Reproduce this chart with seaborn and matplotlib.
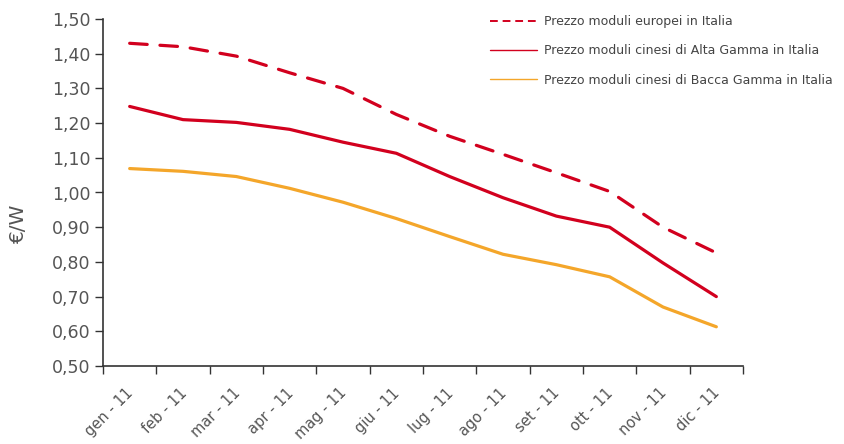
import numpy as np
import pandas as pd
import matplotlib
matplotlib.use("Agg")
import matplotlib.pyplot as plt
from matplotlib.lines import Line2D
from matplotlib.transforms import offset_copy
import seaborn as sns

mesi = ["gen - 11", "feb - 11", "mar - 11", "apr - 11", "mag - 11", "giu - 11",
        "lug - 11", "ago - 11", "set - 11", "ott - 11", "nov - 11", "dic - 11"]
europei = [1.43, 1.42, 1.393, 1.345, 1.30, 1.225, 1.162, 1.11, 1.057, 1.003, 0.90, 0.826]
cinesi_alta = [1.248, 1.21, 1.202, 1.182, 1.145, 1.113, 1.046, 0.985, 0.932, 0.90, 0.797, 0.70]
cinesi_bassa = [1.069, 1.061, 1.046, 1.012, 0.972, 0.925, 0.873, 0.822, 0.792, 0.757, 0.67, 0.613]
y_ticks = [0.50, 0.60, 0.70, 0.80, 0.90, 1.00, 1.10, 1.20, 1.30, 1.40, 1.50]

serie = {
    "Prezzo moduli europei in Italia": europei,
    "Prezzo moduli cinesi di Alta Gamma in Italia": cinesi_alta,
    "Prezzo moduli cinesi di Bacca Gamma in Italia": cinesi_bassa,
}
ROSSO = "#d2001e"
ARANCIO = "#f4a62a"
colori = dict(zip(serie, [ROSSO, ROSSO, ARANCIO]))
tratti = dict(zip(serie, [(5.5, 4.0), "", ""]))

df = pd.concat(
    [pd.DataFrame({"pos": np.arange(len(mesi)) + 0.5, "prezzo": v, "serie": k})
     for k, v in serie.items()],
    ignore_index=True,
)

sns.set_style("white")
plt.rcParams["font.family"] = ["DejaVu Sans"]

fig = plt.figure(figsize=(8.45, 4.44), dpi=100)
ax = fig.add_axes([103 / 845, 1 - 366 / 444, (743 - 103) / 845, (366 - 19) / 444])

sns.lineplot(data=df, x="pos", y="prezzo", hue="serie", style="serie",
             palette=colori, dashes=tratti, linewidth=2.3, legend=False, ax=ax)
for ln in ax.get_lines():
    ln.set_solid_joinstyle("round")
    ln.set_dash_capstyle("round")
    ln.set_solid_capstyle("round")

GRIGIO = "#555555"
ax.set_xlim(0, 12)
ax.set_ylim(0.5, 1.5)
ax.set_xticks(np.arange(0, 13))
ax.set_xticklabels([])
ax.set_xticks(np.arange(len(mesi)) + 0.5, minor=True)
ax.set_xticklabels(mesi, minor=True, rotation=45, ha="right",
                   rotation_mode="anchor", fontsize=10.5, color=GRIGIO)
ax.tick_params(axis="x", which="minor", length=0, pad=14)
ax.tick_params(axis="x", which="major", direction="out", length=6, width=1,
               color="#333333", bottom=True)
for lab in ax.get_xticklabels(minor=True):
    lab.set_transform(offset_copy(lab.get_transform(), fig=fig, x=-4, y=0,
                                  units="dots"))
ax.set_yticks(y_ticks)
ax.set_yticklabels([f"{v:.2f}".replace(".", ",") for v in y_ticks],
                   fontsize=12.5, color=GRIGIO)
ax.tick_params(axis="y", direction="out", length=6, width=1, color="#333333",
               left=True, pad=3)

for s in ["top", "right"]:
    ax.spines[s].set_visible(False)
for s in ["left", "bottom"]:
    ax.spines[s].set_color("#333333")
    ax.spines[s].set_linewidth(1.2)

ax.set_xlabel("")
ax.set_ylabel("")
fig.text(19 / 845, 1 - 224 / 444, "€/W", rotation=90, ha="center", va="center",
         fontsize=14.5, color=GRIGIO)

maniglie = [
    Line2D([], [], color=ROSSO, lw=1.4, dashes=(4, 2.5)),
    Line2D([], [], color=ROSSO, lw=1.0),
    Line2D([], [], color=ARANCIO, lw=1.0),
]
leg = fig.legend(maniglie, list(serie), loc="upper left",
                 bbox_to_anchor=(490 / 845, 1 - 15 / 444), frameon=False,
                 fontsize=9.0, handlelength=3.8, handletextpad=0.55,
                 labelspacing=1.3, borderaxespad=0, borderpad=0)
for t in leg.get_texts():
    t.set_color("#444444")

fig.savefig("out.png", dpi=100)
